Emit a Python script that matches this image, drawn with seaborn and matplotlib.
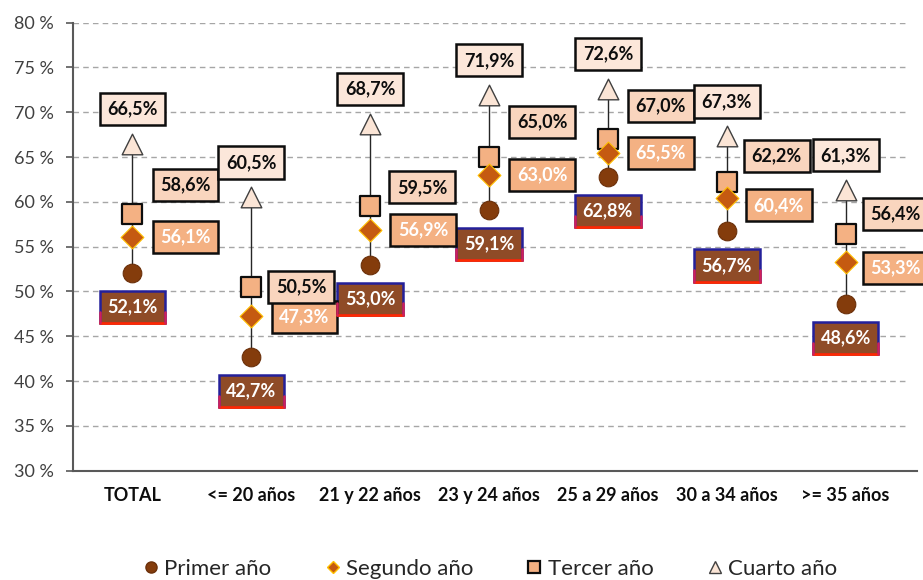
import matplotlib
matplotlib.use("Agg")
import matplotlib.pyplot as plt
from matplotlib.lines import Line2D
import seaborn as sns
import pandas as pd
import numpy as np

# ---- data ----
categories = ["TOTAL", "<= 20 años", "21 y 22 años", "23 y 24 años",
              "25 a 29 años", "30 a 34 años", ">= 35 años"]
primer = [52.1, 42.7, 53.0, 59.1, 62.8, 56.7, 48.6]
segundo = [56.1, 47.3, 56.9, 63.0, 65.5, 60.4, 53.3]
tercer = [58.6, 50.5, 59.5, 65.0, 67.0, 62.2, 56.4]
cuarto = [66.5, 60.5, 68.7, 71.9, 72.6, 67.3, 61.3]
series_names = ["Primer año", "Segundo año", "Tercer año", "Cuarto año"]
y_ticks = [30, 35, 40, 45, 50, 55, 60, 65, 70, 75, 80]

sns.set_style("white")
plt.rcParams["font.family"] = ["Lato", "DejaVu Sans"]

W, H = 923, 580
fig = plt.figure(figsize=(W / 100, H / 100), dpi=100)
ax = fig.add_axes([73 / W, 1 - 470.7 / H, (917 - 73) / W, (470.7 - 22.7) / H])

df = pd.DataFrame({"cat": categories, "Primer año": primer, "Segundo año": segundo,
                   "Tercer año": tercer, "Cuarto año": cuarto})
long = df.melt(id_vars="cat", var_name="serie", value_name="val")
xpos = {c: i for i, c in enumerate(categories)}
long["x"] = long["cat"].map(xpos)

# grid lines
for v in y_ticks[1:]:
    ax.hlines(v, -0.5, 6.51, colors="#A6A6A6", linestyles=(0, (4, 3)), lw=1, zorder=0)

# high-low lines
ax.vlines(df.index, df[series_names].min(axis=1), df[series_names].max(axis=1),
          colors="#262626", lw=1, zorder=1)

styles = {
    "Primer año": dict(marker="o", s=180, color="#843C0C", edgecolor="#6B300A", linewidth=0.8),
    "Segundo año": dict(marker="D", s=135, color="#C55A11", edgecolor="#FFC000", linewidth=0.8),
    "Tercer año": dict(marker="s", s=200, color="#F4B183", edgecolor="#0D0D0D", linewidth=1.6),
    "Cuarto año": dict(marker="^", s=220, color="#FBE5D6", edgecolor="#404040", linewidth=1.0),
}
for k, name in enumerate(["Cuarto año", "Tercer año", "Segundo año", "Primer año"]):
    sub = long[long["serie"] == name]
    sns.scatterplot(data=sub, x="x", y="val", ax=ax, zorder=3 + k, legend=False,
                    **styles[name])

# data labels
box_style = {
    "Primer año": dict(fc="#8F4B27", tc="white", ec="#24209A"),
    "Segundo año": dict(fc="#F4B183", tc="white", ec="#0D0D0D"),
    "Tercer año": dict(fc="#F9D5BE", tc="#0D0D0D", ec="#0D0D0D"),
    "Cuarto año": dict(fc="#FCE7DA", tc="#0D0D0D", ec="#0D0D0D"),
}
default_off = {"Primer año": (0, -34), "Segundo año": (53, 0),
               "Tercer año": (53, 29.5), "Cuarto año": (0, 35)}
override = {
    ("Segundo año", 1): (53, -1), ("Segundo año", 5): (52, -7), ("Segundo año", 6): (50, -6),
    ("Tercer año", 1): (50, 0), ("Tercer año", 2): (52, 19), ("Tercer año", 3): (53, 35),
    ("Tercer año", 4): (53, 33), ("Tercer año", 5): (50, 26), ("Tercer año", 6): (50, 20),
}
primer_texts = []
for k, name in enumerate(series_names):
    vals = df[name].tolist()
    st = box_style[name]
    for i, v in enumerate(vals):
        dx, dy = override.get((name, i), default_off[name])
        t = ax.annotate(f"{v:.1f}%".replace(".", ","), (i, v),
                        xytext=(dx * 0.72, dy * 0.72), textcoords="offset points",
                        ha="center", va="center", fontsize=13, fontweight="bold",
                        color=st["tc"], zorder=10 + k, annotation_clip=False,
                        bbox=dict(boxstyle="square,pad=0.42", fc=st["fc"], ec=st["ec"], lw=1.8))
        if name == "Primer año":
            primer_texts.append(t)

ax.set_xlim(-0.5, 6.6)
ax.set_ylim(30, 80)
ax.set_yticks(y_ticks)
ax.set_yticklabels([f"{v} %" for v in y_ticks], fontsize=13, color="#404040")
ax.set_xticks(range(len(categories)))
ax.set_xticklabels(categories, fontsize=13, fontweight="bold", color="#0D0D0D")
ax.tick_params(axis="y", which="both", left=True, length=5, width=1.2, color="#595959", pad=9)
ax.tick_params(axis="x", length=0, pad=12)
ax.set_xlabel("")
ax.set_ylabel("")
for s in ["top", "right"]:
    ax.spines[s].set_visible(False)
for s in ["left", "bottom"]:
    ax.spines[s].set_color("#595959")
    ax.spines[s].set_linewidth(1.5)

# legend
handles = [
    Line2D([], [], ls="none", marker="o", ms=8, mfc="#843C0C", mec="#6B300A"),
    Line2D([], [], ls="none", marker="D", ms=6, mfc="#C55A11", mec="#FFC000"),
    Line2D([], [], ls="none", marker="s", ms=8, mfc="#F4B183", mec="#0D0D0D", mew=1.6),
    Line2D([], [], ls="none", marker="^", ms=8, mfc="#FBE5D6", mec="#404040"),
]
fig.legend(handles, series_names, loc="center", bbox_to_anchor=(489 / W, 1 - 569 / H),
           ncol=4, frameon=False, fontsize=16, columnspacing=2.3, handletextpad=0.15,
           handlelength=0.9, labelcolor="#262626")

# gradient-like border for the first-year boxes (red bottom edge)
fig.canvas.draw()
inv = fig.transFigure.inverted()
for t in primer_texts:
    bb = t.get_bbox_patch().get_window_extent()
    (x0, y0), (x1, y1) = inv.transform([(bb.x0, bb.y0), (bb.x1, bb.y1)])
    ym = y0 + (y1 - y0) * 0.35
    fig.add_artist(Line2D([x0, x1], [y0, y0], color="#FF2A00", lw=2, zorder=20))
    fig.add_artist(Line2D([x0, x0], [y0, ym], color="#D0205A", lw=1.8, zorder=20))
    fig.add_artist(Line2D([x1, x1], [y0, ym], color="#D0205A", lw=1.8, zorder=20))

fig.savefig("out.png", dpi=100)
